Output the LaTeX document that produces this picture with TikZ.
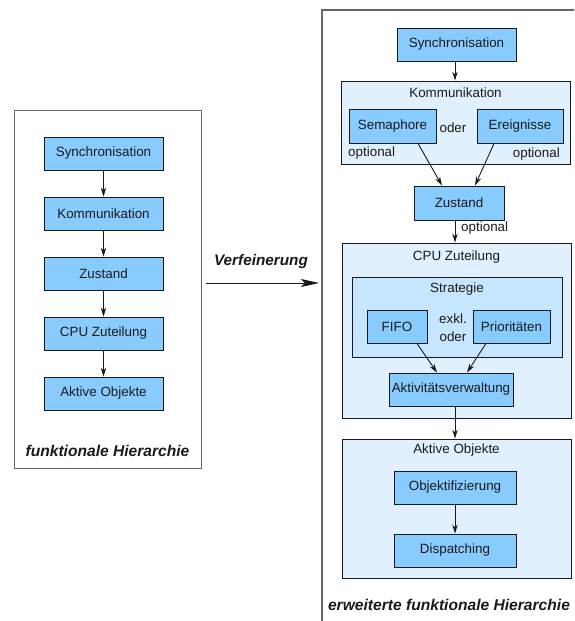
\documentclass[tikz,border=0pt]{standalone}
\usepackage{fontspec}
\setmainfont{Liberation Sans}
\usetikzlibrary{arrows.meta}
\definecolor{boxblue}{HTML}{88CCFF}
\definecolor{groupblue}{HTML}{E0F0FF}
\definecolor{subgroupblue}{HTML}{C6E5FF}
\definecolor{framegray}{HTML}{666666}
\definecolor{inkdark}{HTML}{1A1A1A}
\begin{document}
\begin{tikzpicture}[x=1pt,y=-1pt,
  every node/.style={font=\fontsize{13.4}{16}\selectfont, text=inkdark, inner sep=0pt},
  unit/.style={draw=inkdark, line width=0.9pt, fill=boxblue, minimum height=33pt},
  group/.style={draw=inkdark, line width=0.9pt, fill=groupblue},
  subgroup/.style={draw=inkdark, line width=0.9pt, fill=subgroupblue},
  flow/.style={draw=inkdark, line width=0.9pt, -{Stealth[length=9pt,width=5.5pt]}},
  caption/.style={font=\fontsize{15.6}{18}\selectfont\bfseries\itshape},
  plain/.style={}]
\useasboundingbox (0,0) rectangle (574,621);
\clip (0,0) rectangle (574,621);

% ---------- left: functional hierarchy ----------
\node[draw=framegray, line width=1pt, minimum width=187pt, minimum height=358pt] (lframe) at (107.5,289) {};
\node[unit, minimum width=119pt] (lsync) at (103.5,153.5) {Synchronisation};
\node[unit, minimum width=119pt] (lkom)  at (103.5,213.5) {Kommunikation};
\node[unit, minimum width=119pt] (lzus)  at (103.5,273.5) {Zustand};
\node[unit, minimum width=119pt] (lcpu)  at (103.5,333.5) {CPU Zuteilung};
\node[unit, minimum width=119pt] (lakt)  at (103.5,393.5) {Aktive Objekte};
\node[caption] (lcap) at (107.5,451) {funktionale Hierarchie};
\draw[flow] (lsync) -- (lkom);
\draw[flow] (lkom) -- (lzus);
\draw[flow] (lzus) -- (lcpu);
\draw[flow] (lcpu) -- (lakt);

% ---------- refinement arrow ----------
\node[font=\fontsize{15.3}{18}\selectfont\bfseries\itshape] (reflabel) at (261,262) {Verfeinerung};
\coordinate (refstart) at (206,283);
\coordinate (refend) at (319,283);
\draw[draw=inkdark, line width=1pt, -{Stealth[length=18pt,width=8pt,inset=4pt]}] (refstart) -- (refend);

% ---------- right: extended functional hierarchy ----------
\draw[draw=framegray, line width=2pt] (322,700) -- (322,10) -- (700,10);

\node[unit, minimum width=119pt] (rsync) at (456.5,44.5) {Synchronisation};

\node[group, minimum width=229pt, minimum height=83pt] (rkom) at (455.5,122.5) {};
\node (rkomlabel) at (455.5,93) {Kommunikation};
\node[unit, minimum width=87pt, minimum height=34pt] (sema) at (392.5,126) {Semaphore};
\node[unit, minimum width=86pt, minimum height=34pt] (ereig) at (520,126) {Ereignisse};
\node (oder) at (453,128) {oder};
\node[anchor=west] (optsema) at (348,153) {optional};
\node[anchor=east] (optereig) at (560,154) {optional};

\node[unit, minimum width=90pt, minimum height=34pt] (rzus) at (459,203) {Zustand};

\node[group, minimum width=229pt, minimum height=175pt] (rcpu) at (456.5,330.5) {};
\node (rcpulabel) at (456.5,257) {CPU Zuteilung};
\node[subgroup, minimum width=210pt, minimum height=80pt] (strat) at (457,317) {};
\node (stratlabel) at (457,289) {Strategie};
\node[unit, minimum width=60pt] (fifo) at (397,326.5) {FIFO};
\node[unit, minimum width=77pt] (prio) at (511.5,326.5) {Prioritäten};
\node[align=center, font=\fontsize{13.4}{18}\selectfont] (exkl) at (453,328) {exkl.\\oder};
\node[unit, minimum width=124pt] (aktv) at (451,389.5) {Aktivitätsverwaltung};

\node[group, minimum width=229pt, minimum height=139pt] (rakt) at (456.5,508.5) {};
\node (raktlabel) at (456.5,450) {Aktive Objekte};
\node[unit, minimum width=122pt] (objekt) at (455,487.5) {Objektifizierung};
\node[unit, minimum width=122pt] (disp) at (455,550.5) {Dispatching};

\node[caption] (rcap) at (449,605) {erweiterte funktionale Hierarchie};

% connectors on the right
\draw[flow] (rsync.south -| 455,0) -- (rkom.north -| 455,0);
\draw[flow] ([xshift=25.5pt]sema.south) -- ([xshift=-17pt]rzus.north);
\draw[flow] ([xshift=-26pt]ereig.south) -- ([xshift=16pt]rzus.north);
\draw[flow] (rzus.south -| 455,0) -- (rcpu.north -| 455,0);
\node[anchor=west] (optzus) at (461,228) {optional};
\draw[flow] ([xshift=20pt]fifo.south) -- ([xshift=-14pt]aktv.north);
\draw[flow] ([xshift=-25.5pt]prio.south) -- ([xshift=16pt]aktv.north);
\draw[flow] (aktv.south -| 455,0) -- (rakt.north -| 455,0);
\draw[flow] (objekt) -- (disp);
\end{tikzpicture}
\end{document}
